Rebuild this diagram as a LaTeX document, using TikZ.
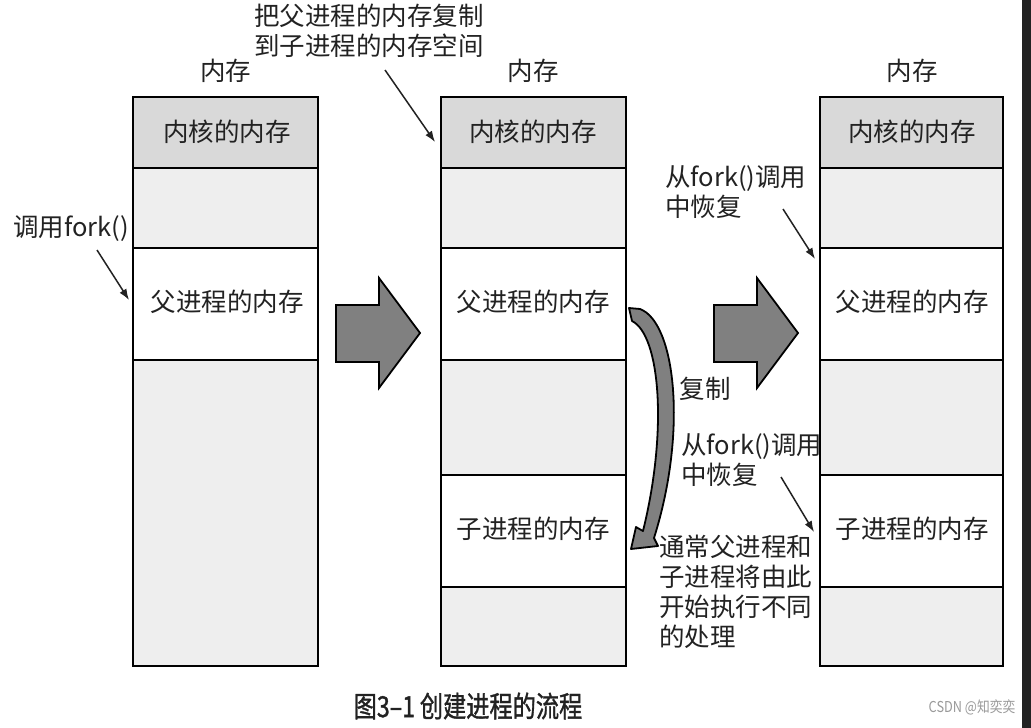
\documentclass[tikz,border=0pt]{standalone}
\usepackage{fontspec}
\setmainfont{Noto Sans CJK SC}
\newfontfamily\capfont[FakeBold=1.3]{Noto Sans CJK SC}
\usetikzlibrary{arrows.meta}
\definecolor{kernelgray}{HTML}{D9D9D9}
\definecolor{freegray}{HTML}{EEEEEE}
\definecolor{arrowgray}{HTML}{808080}
\definecolor{inkgray}{HTML}{222222}
\definecolor{markgray}{HTML}{9A9A9A}
\tikzset{
  memrow/.style={draw=black, line width=1.8pt},
  label/.style={font=\fontsize{25.5}{30}\selectfont, text=inkgray, inner sep=0pt},
  note/.style={label, align=left, anchor=north west},
  pointer/.style={-{Latex[length=11pt,width=8pt]}, line width=1.5pt, draw=inkgray},
  bigarrow/.style={draw=black, line width=1.8pt, fill=arrowgray, line join=miter}
}
\begin{document}
\begin{tikzpicture}[x=1pt,y=-1pt]
\useasboundingbox (0,0) rectangle (1031,728);
\fill[white] (0,0) rectangle (1031,728);
\fill[inkgray] (1022,0) rectangle (1031,728);
%memory 1
\draw[memrow, fill=kernelgray] (133,97) rectangle (318,168);
\draw[memrow, fill=freegray] (133,168) rectangle (318,248);
\draw[memrow, fill=white] (133,248) rectangle (318,360);
\draw[memrow, fill=freegray] (133,360) rectangle (318,666);
\node[label] (mem1) at (225.5,71) {内存};
\node[label] (kernel1) at (227,132) {内核的内存};
\node[label] (parent1) at (227,302) {父进程的内存};
%memory 2
\draw[memrow, fill=kernelgray] (441,97) rectangle (626,168);
\draw[memrow, fill=freegray] (441,168) rectangle (626,248);
\draw[memrow, fill=white] (441,248) rectangle (626,360);
\draw[memrow, fill=freegray] (441,360) rectangle (626,475);
\draw[memrow, fill=white] (441,475) rectangle (626,587);
\draw[memrow, fill=freegray] (441,587) rectangle (626,666);
\node[label] (mem2) at (533,71) {内存};
\node[label] (kernel2) at (533,132) {内核的内存};
\node[label] (parent2) at (533,302) {父进程的内存};
\node[label] (child2) at (533,529) {子进程的内存};
%memory 3
\draw[memrow, fill=kernelgray] (820,97) rectangle (1003,168);
\draw[memrow, fill=freegray] (820,168) rectangle (1003,248);
\draw[memrow, fill=white] (820,248) rectangle (1003,360);
\draw[memrow, fill=freegray] (820,360) rectangle (1003,475);
\draw[memrow, fill=white] (820,475) rectangle (1003,587);
\draw[memrow, fill=freegray] (820,587) rectangle (1003,666);
\node[label] (mem3) at (912,71) {内存};
\node[label] (kernel3) at (912,132) {内核的内存};
\node[label] (parent3) at (912,302) {父进程的内存};
\node[label] (child3) at (912,529) {子进程的内存};
%big arrows
\draw[bigarrow] (336,305) -- (379,305) -- (379,278) -- (420,333) -- (379,388) -- (379,362) -- (336,362) -- cycle;
\draw[bigarrow] (714,305) -- (757,305) -- (757,278) -- (798,333) -- (757,388) -- (757,362) -- (714,362) -- cycle;
%copy arrow
\draw[bigarrow, line join=round] (629,308) -- (640,309) .. controls (675,322) and (688,430) .. (654,538)
  -- (658,546) -- (631,549) -- (636,527) -- (643,531) .. controls (668,430) and (660,335) .. (632,321) -- cycle;
\node[label] (copy) at (705,389) {复制};
%notes
\node[note] (copynote) at (254,4) {把父进程的内存复制\\到子进程的内存空间};
\coordinate (copyfrom) at (385,70);
\coordinate (copyto) at (435,142);
\draw[pointer] (copyfrom) -- (copyto);
\node[label, anchor=west] (callfork) at (13,229) {调用fork()};
\coordinate (callfrom) at (97,250);
\coordinate (callto) at (129,300);
\draw[pointer] (callfrom) -- (callto);
\node[note] (resume1) at (665,165) {从fork()调用\\中恢复};
\coordinate (resume1from) at (783,209);
\coordinate (resume1to) at (815,259);
\draw[pointer] (resume1from) -- (resume1to);
\node[note] (resume2) at (681,433) {从fork()调用\\中恢复};
\coordinate (resume2from) at (781,477);
\coordinate (resume2to) at (814,532);
\draw[pointer] (resume2from) -- (resume2to);
\node[note] (split) at (659,535) {通常父进程和\\子进程将由此\\开始执行不同\\的处理};
%caption
\node[label, font=\capfont\fontsize{29}{30}\selectfont] (caption) at (468,706) {\scalebox{0.8}[1]{图3–1\hspace{6pt}创建进程的流程}};
\node[inner sep=0pt, text=markgray, font=\fontsize{15}{17}\selectfont] (mark) at (972,707) {\scalebox{0.85}[1]{CSDN @知奕奕}};
\end{tikzpicture}
\end{document}
